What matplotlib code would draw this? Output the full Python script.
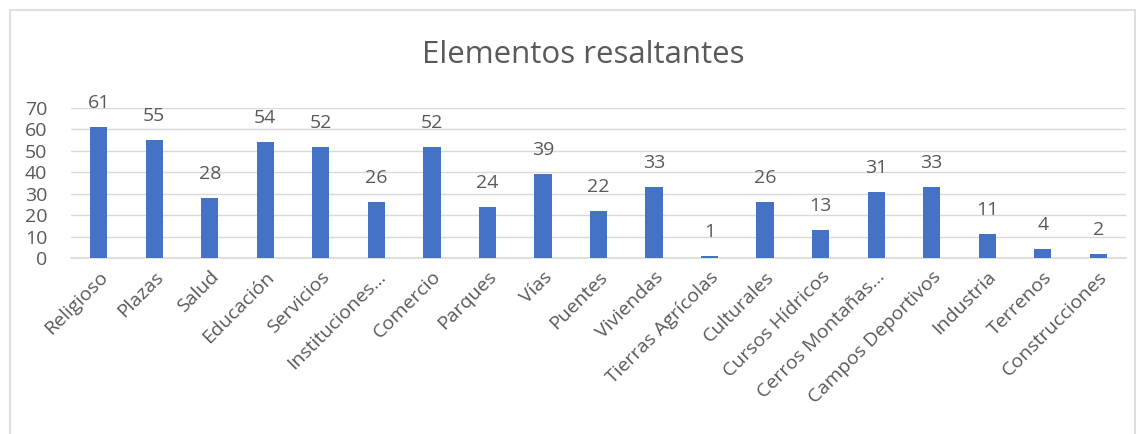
import matplotlib.pyplot as plt
import matplotlib.patches as mpatches
import numpy as np

# ── DATA ────────────────────────────────────────────────────────────────────
categories = [
    "Religioso", "Plazas", "Salud", "Educación", "Servicios",
    "Instituciones...", "Comercio", "Parques", "Vías", "Puentes",
    "Viviendas", "Tierras Agrícolas", "Culturales", "Cursos Hídricos",
    "Cerros Montañas...", "Campos Deportivos", "Industria", "Terrenos",
    "Construcciones",
]
counts = [61, 55, 28, 54, 52, 26, 52, 24, 39, 22, 33, 1, 26, 13, 31, 33, 11, 4, 2]
y_ticks = [0, 10, 20, 30, 40, 50, 60, 70]
# ────────────────────────────────────────────────────────────────────────────

BAR_COLOR = "#4472C4"
TEXT_GRAY = "#595959"
GRID_GRAY = "#D9D9D9"

plt.rcParams["font.family"] = ["Open Sans", "DejaVu Sans"]

fig = plt.figure(figsize=(11.42, 4.34), dpi=100)
ax = fig.add_axes([71 / 1142, 1 - 258 / 434, 1055 / 1142, 150 / 434])

# chart border, like the Excel frame
fig.patches.append(mpatches.Rectangle(
    (10 / 1142, -0.1), 1125 / 1142, 1.1 - 10 / 434,
    transform=fig.transFigure, fill=False, edgecolor=GRID_GRAY, linewidth=1.2))

x = np.arange(len(categories))
bars = ax.bar(x, counts, width=0.31, color=BAR_COLOR, zorder=3)

# value labels above each bar
for bar, v in zip(bars, counts):
    ax.text(bar.get_x() + bar.get_width() / 2, v + 7, str(v),
            ha="center", va="bottom", fontsize=14, color=TEXT_GRAY)

ax.set_xlim(-0.5, len(categories) - 0.5)
ax.set_ylim(0, 70)
ax.set_yticks(y_ticks)
ax.set_xticks(x)
ax.set_xticklabels(categories, rotation=45, ha="right", rotation_mode="anchor",
                   fontsize=14, color=TEXT_GRAY)
ax.tick_params(axis="y", labelsize=14, labelcolor=TEXT_GRAY, length=0, pad=17)
ax.tick_params(axis="x", length=0, pad=7)
ax.grid(True, axis="y", color=GRID_GRAY, linewidth=1, zorder=0)

for side in ["left", "right", "top"]:
    ax.spines[side].set_visible(False)
ax.spines["bottom"].set_color(GRID_GRAY)
ax.spines["bottom"].set_linewidth(1.2)

fig.text(583 / 1142, 1 - 55 / 434, "Elementos resaltantes",
         ha="center", va="center", fontsize=22.5, color=TEXT_GRAY)

plt.savefig("out.png", dpi=100)
